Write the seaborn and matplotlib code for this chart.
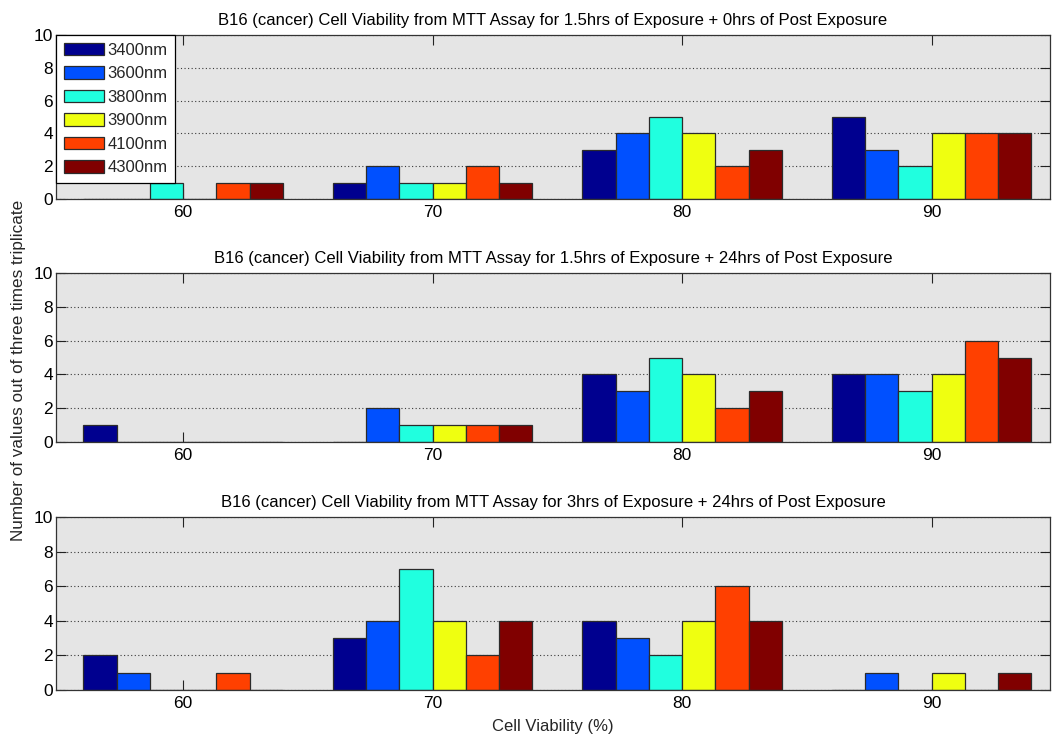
import numpy as np
import pandas as pd
import matplotlib
matplotlib.use("Agg")
import matplotlib.pyplot as plt
from matplotlib.patches import Patch
import seaborn as sns

# Viability bins (%) and laser wavelengths
viability = [60, 70, 80, 90]
wavelengths = ["3400nm", "3600nm", "3800nm", "3900nm", "4100nm", "4300nm"]
colors = ["#00008F", "#0050FF", "#20FFDF", "#EFFF10", "#FF4000", "#800000"]

# Counts per wavelength (rows) across viability bins (columns)
counts_1p5h_0h = [
    [0, 1, 3, 5],
    [0, 2, 4, 3],
    [1, 1, 5, 2],
    [0, 1, 4, 4],
    [1, 2, 2, 4],
    [1, 1, 3, 4],
]
counts_1p5h_24h = [
    [1, 0, 4, 4],
    [0, 2, 3, 4],
    [0, 1, 5, 3],
    [0, 1, 4, 4],
    [0, 1, 2, 6],
    [0, 1, 3, 5],
]
counts_3h_24h = [
    [2, 3, 4, 0],
    [1, 4, 3, 1],
    [0, 7, 2, 0],
    [0, 4, 4, 1],
    [1, 2, 6, 0],
    [0, 4, 4, 1],
]

titles = [
    "B16 (cancer) Cell Viability from MTT Assay for 1.5hrs of Exposure + 0hrs of Post Exposure",
    "B16 (cancer) Cell Viability from MTT Assay for 1.5hrs of Exposure + 24hrs of Post Exposure",
    "B16 (cancer) Cell Viability from MTT Assay for 3hrs of Exposure + 24hrs of Post Exposure",
]
y_ticks = [0, 2, 4, 6, 8, 10]

sns.set_theme(style="ticks")
plt.rcParams["font.family"] = ["Liberation Sans", "DejaVu Sans"]

W, H = 1052, 735
fig = plt.figure(figsize=(W / 100, H / 100), dpi=100)

# axes boxes in pixels: (left, top, right, bottom)
boxes = [(56, 35, 1050, 199), (56, 273, 1050, 442), (56, 517, 1050, 690)]
edge = "#2b2b2b"

for k, (counts, title, box) in enumerate(zip([counts_1p5h_0h, counts_1p5h_24h, counts_3h_24h], titles, boxes)):
    l, t, r, b = box
    ax = fig.add_axes([l / W, 1 - b / H, (r - l) / W, (b - t) / H])
    rows = []
    for wl, vals in zip(wavelengths, counts):
        for v, c in zip(viability, vals):
            rows.append({"viability": v, "wavelength": wl, "count": c})
    df = pd.DataFrame(rows)

    ax.set_facecolor("#E5E5E5")
    ax.set_axisbelow(True)
    ax.yaxis.grid(True, linestyle=(0, (1, 2.2)), color="#3a3a3a", linewidth=0.8)
    ax.xaxis.grid(False)

    sns.barplot(data=df, x="viability", y="count", hue="wavelength",
                hue_order=wavelengths, palette=colors, saturation=1,
                native_scale=True, width=0.8, errorbar=None,
                edgecolor=edge, linewidth=0.9, legend=False, ax=ax)

    ax.set_xlim(54.9, 94.75)
    ax.set_ylim(0, 10)
    ax.set_xticks(viability)
    ax.set_xticklabels([str(v) for v in viability])
    ax.set_yticks(y_ticks)
    ax.set_yticklabels([str(v) for v in y_ticks])
    ax.tick_params(axis="both", direction="in", top=True, right=True,
                   length=7, width=0.8, color="#222222", labelsize=12.5,
                   labelcolor="black")
    ax.tick_params(axis="x", pad=4)
    ax.tick_params(axis="y", pad=2)
    for s in ax.spines.values():
        s.set_color("#333333")
        s.set_linewidth(0.9)
    ax.set_xlabel("")
    ax.set_ylabel("")
    ax.set_title(title, fontsize=12, pad=7, color="black")

    if k == 0:
        handles = [Patch(facecolor=c, edgecolor=edge, linewidth=0.9) for c in colors]
        leg = ax.legend(handles, wavelengths, loc="upper left",
                        bbox_to_anchor=(0, 1), borderaxespad=0, fontsize=12,
                        frameon=True, fancybox=False, framealpha=1,
                        edgecolor="black", handlelength=2.4, handleheight=0.8,
                        handletextpad=0.25, labelspacing=0.5, borderpad=0.45)
        leg.get_frame().set_linewidth(0.9)
    if k == 2:
        ax.set_xlabel("Cell Viability (%)", fontsize=12, labelpad=6)

fig.text(0.018, 0.496, "Number of values out of three times triplicate",
         rotation=90, ha="center", va="center", fontsize=12.3)

fig.savefig("out.png", dpi=100, facecolor="white")
